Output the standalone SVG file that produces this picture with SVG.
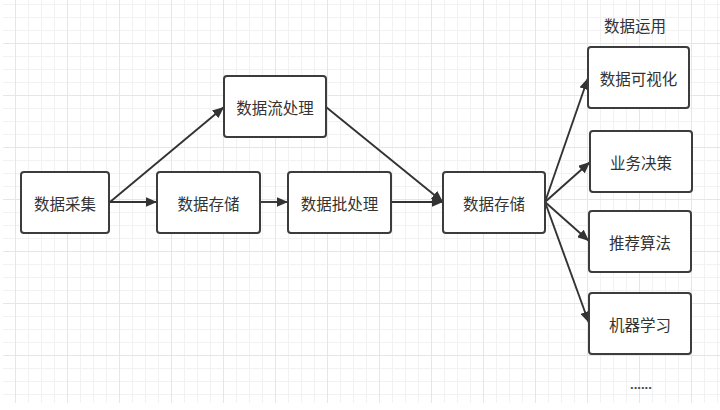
<svg xmlns="http://www.w3.org/2000/svg" width="720" height="410" viewBox="0 0 720 410">
  <defs>
    <pattern id="grid" patternUnits="userSpaceOnUse" x="15" y="43" width="52" height="52">
      <rect x="0" y="0" width="52" height="52" fill="#ffffff"/>
      <rect x="13" y="0" width="1" height="52" fill="#f2f2f2"/>
      <rect x="26" y="0" width="1" height="52" fill="#f2f2f2"/>
      <rect x="39" y="0" width="1" height="52" fill="#f2f2f2"/>
      <rect x="0" y="13" width="52" height="1" fill="#f2f2f2"/>
      <rect x="0" y="26" width="52" height="1" fill="#f2f2f2"/>
      <rect x="0" y="39" width="52" height="1" fill="#f2f2f2"/>
      <rect x="0" y="0" width="1" height="52" fill="#e6e6e6"/>
      <rect x="0" y="0" width="52" height="1" fill="#e6e6e6"/>
    </pattern>
    <marker id="arrow" markerUnits="userSpaceOnUse" markerWidth="12" markerHeight="10" refX="11.5" refY="5" orient="auto">
      <path d="M0,0 L11.5,5 L0,10 z" fill="#333333"/>
    </marker>
    <style>
      .box { fill: #ffffff; stroke: #3c3c3c; stroke-width: 2; }
      .lbl { font-family: "Noto Sans CJK SC", "Noto Sans", sans-serif; font-size: 15.5px; fill: #333333; text-anchor: middle; dominant-baseline: central; }
      .edge { stroke: #333333; stroke-width: 1.9; fill: none; marker-end: url(#arrow); }
    </style>
  </defs>

  <rect x="0" y="0" width="720" height="410" fill="#ffffff"/>
  <rect x="3" y="0" width="717" height="403" fill="url(#grid)"/>

  <g id="connectors">
    <line class="edge" x1="110" y1="202" x2="224" y2="107"/>
    <line class="edge" x1="110" y1="202" x2="157" y2="202"/>
    <line class="edge" x1="260" y1="202" x2="288" y2="202"/>
    <line class="edge" x1="391" y1="202" x2="443" y2="202"/>
    <line class="edge" x1="326" y1="107" x2="443" y2="202"/>
    <line class="edge" x1="545" y1="202" x2="588" y2="78"/>
    <line class="edge" x1="545" y1="202" x2="590" y2="162"/>
    <line class="edge" x1="545" y1="202" x2="589" y2="241"/>
    <line class="edge" x1="545" y1="202" x2="589" y2="323"/>
  </g>

  <g id="node-collect">
    <rect class="box" x="21" y="172" width="88" height="61" rx="3"/>
    <text class="lbl" x="65" y="202.5">数据采集</text>
  </g>
  <g id="node-stream">
    <rect class="box" x="224" y="76" width="102" height="61" rx="3"/>
    <text class="lbl" x="275" y="106.5">数据流处理</text>
  </g>
  <g id="node-store1">
    <rect class="box" x="157" y="172" width="103" height="61" rx="3"/>
    <text class="lbl" x="208.5" y="202.5">数据存储</text>
  </g>
  <g id="node-batch">
    <rect class="box" x="288" y="172" width="103" height="61" rx="3"/>
    <text class="lbl" x="339.5" y="202.5">数据批处理</text>
  </g>
  <g id="node-store2">
    <rect class="box" x="443" y="172" width="102" height="61" rx="3"/>
    <text class="lbl" x="494" y="202.5">数据存储</text>
  </g>
  <g id="label-usage">
    <text class="lbl" x="635" y="25">数据运用</text>
  </g>
  <g id="node-visual">
    <rect class="box" x="588" y="47" width="101" height="61" rx="3"/>
    <text class="lbl" x="638.5" y="77.5">数据可视化</text>
  </g>
  <g id="node-decision">
    <rect class="box" x="590" y="131" width="102" height="61" rx="3"/>
    <text class="lbl" x="641" y="161.5">业务决策</text>
  </g>
  <g id="node-recommend">
    <rect class="box" x="589" y="211" width="102" height="61" rx="3"/>
    <text class="lbl" x="640" y="241.5">推荐算法</text>
  </g>
  <g id="node-ml">
    <rect class="box" x="589" y="293" width="102" height="61" rx="3"/>
    <text class="lbl" x="640" y="323.5">机器学习</text>
  </g>
  <g id="label-more">
    <text x="630" y="389" font-family="Noto Sans, sans-serif" font-size="13" font-weight="bold" fill="#444444">......</text>
  </g>
</svg>
